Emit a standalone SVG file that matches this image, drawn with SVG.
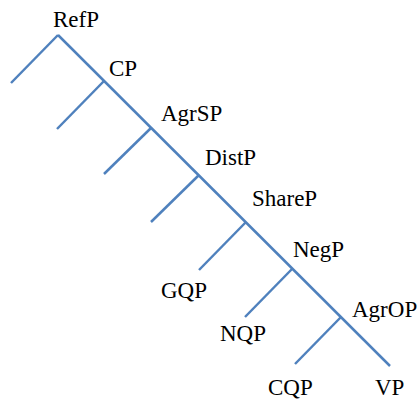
<svg xmlns="http://www.w3.org/2000/svg" width="417" height="400" viewBox="0 0 417 400">
  <style>
    .lbl { font-family: "Liberation Serif", "Times New Roman", serif; font-size: 23px; fill: #000; }
    .edge { stroke: #4F81BD; stroke-width: 2.5; fill: none; stroke-linecap: butt; }
  </style>
  <rect width="417" height="400" fill="#fff"/>
  <g id="connectors">
    <line class="edge" x1="58" y1="35" x2="390" y2="366"/>
    <line class="edge" x1="58" y1="35" x2="11" y2="83"/>
    <line class="edge" x1="104" y1="81" x2="57" y2="129"/>
    <line class="edge" x1="151" y1="128" x2="104" y2="174"/>
    <line class="edge" x1="199" y1="175" x2="151" y2="222"/>
    <line class="edge" x1="246" y1="222" x2="199" y2="270"/>
    <line class="edge" x1="292" y1="269" x2="245" y2="317"/>
    <line class="edge" x1="341" y1="317" x2="295" y2="364"/>
  </g>
  <g id="RefP"><text class="lbl" x="53" y="27">RefP</text></g>
  <g id="CP"><text class="lbl" x="109" y="76">CP</text></g>
  <g id="AgrSP"><text class="lbl" x="161" y="121">AgrSP</text></g>
  <g id="DistP"><text class="lbl" x="205" y="165">DistP</text></g>
  <g id="ShareP"><text class="lbl" x="252" y="206">ShareP</text></g>
  <g id="NegP"><text class="lbl" x="293" y="257">NegP</text></g>
  <g id="AgrOP"><text class="lbl" x="352" y="317">AgrOP</text></g>
  <g id="GQP"><text class="lbl" x="161" y="298">GQP</text></g>
  <g id="NQP"><text class="lbl" x="220" y="341">NQP</text></g>
  <g id="CQP"><text class="lbl" x="268" y="395">CQP</text></g>
  <g id="VP"><text class="lbl" x="375" y="395">VP</text></g>
</svg>
